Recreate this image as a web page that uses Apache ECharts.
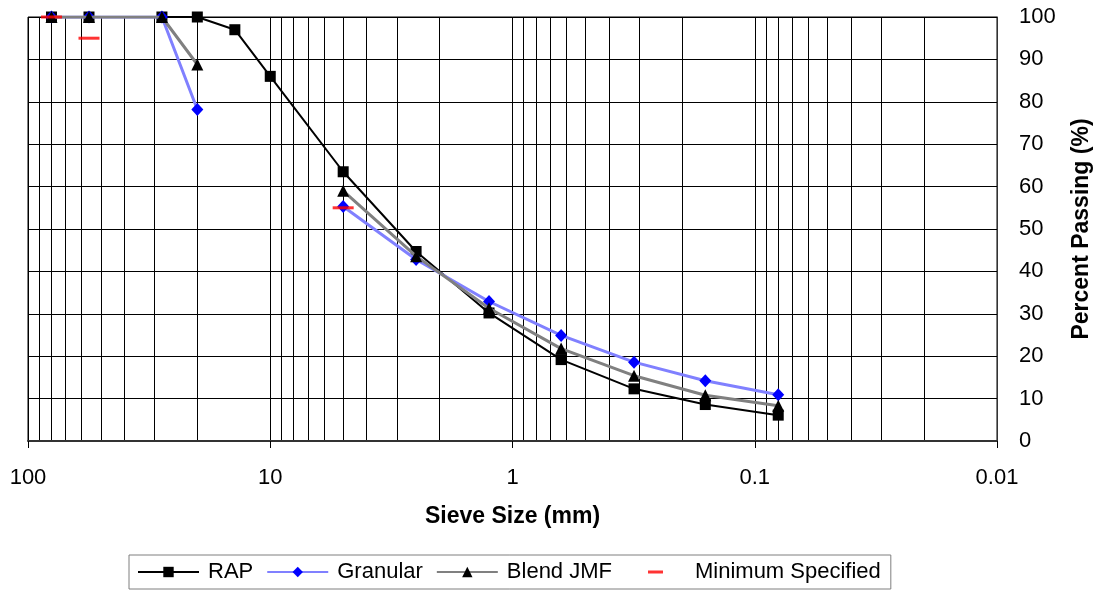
<!DOCTYPE html>
<html><head><meta charset="utf-8">
<script src="https://cdn.jsdelivr.net/npm/echarts@6/dist/echarts.min.js"></script>
<style>html,body{margin:0;padding:0;background:#fff}#c{width:1101px;height:593px}</style>
</head><body><div id="c"></div>
<script>
// Sieve sizes (mm)
const sieveSizes = [80, 56, 28, 20, 14, 10, 5, 2.5, 1.25, 0.63, 0.315, 0.16, 0.08];
// Percent passing
const rapPassing      = [100, 100, 100, 100, 97, 86, 63.5, 44.7, 30.2, 19.2, 12.3, 8.6, 6.1];
const granularPassing = [100, 100, 100, 78.2, null, null, 55.3, 42.8, 32.9, 24.9, 18.6, 14.2, 10.9];
const blendPassing    = [100, 100, 100, 88.8, null, null, 59.0, 43.6, 31.3, 21.8, 15.4, 10.8, 8.3];
const minSpecSizes  = [80, 56, 5];
const minSpecValues = [100, 95, 55];
// Axis ticks
const xDecades = [100, 10, 1, 0.1, 0.01];
const xTickLabels = ['100', '10', '1', '0.1', '0.01'];
const yTickValues = [0, 10, 20, 30, 40, 50, 60, 70, 80, 90, 100];

const FONT = "'Liberation Sans', Arial, sans-serif";

function pairs(xs, ys) {
  return xs.map((x, i) => [x, ys[i] == null ? '-' : ys[i]]);
}
// minor grid lines at 2..9 within each decade
const minorLines = [];
for (let d = 0.01; d < 100; d *= 10) {
  for (let k = 2; k <= 9; k++) minorLines.push({ xAxis: +(k * d).toPrecision(6) });
}

const chart = echarts.init(document.getElementById('c'), null, { renderer: 'canvas' });
chart.setOption({
  animation: false,
  backgroundColor: '#fff',
  textStyle: { fontFamily: FONT },
  grid: { left: 28, right: 102, top: 17, bottom: 152, show: true, borderColor: '#000', borderWidth: 1, containLabel: false },
  xAxis: {
    type: 'log', logBase: 10, min: 0.01, max: 100, inverse: true,
    name: 'Sieve Size (mm)', nameLocation: 'middle', nameGap: 64,
    nameTextStyle: { fontSize: 23, fontWeight: 'bold', color: '#000', fontFamily: FONT },
    axisLine: { show: true, lineStyle: { color: '#333', width: 2 } },
    axisTick: { show: true, length: 7, lineStyle: { color: '#000' } },
    axisLabel: {
      fontSize: 22, color: '#000', margin: 26, fontFamily: FONT,
      formatter: v => { const i = xDecades.findIndex(d => Math.abs(d - v) / d < 1e-6); return i >= 0 ? xTickLabels[i] : ''; }
    },
    splitLine: { show: true, lineStyle: { color: '#000', width: 1 } }
  },
  yAxis: {
    type: 'value', position: 'right', min: 0, max: 100, interval: 10,
    name: 'Percent Passing (%)', nameLocation: 'middle', nameGap: 73, nameRotate: 90,
    nameTextStyle: { fontSize: 23, fontWeight: 'bold', color: '#000', fontFamily: FONT },
    axisLine: { show: true, lineStyle: { color: '#333', width: 1 } },
    axisTick: { show: false },
    axisLabel: { fontSize: 22, color: '#000', margin: 22, fontFamily: FONT,
      formatter: v => yTickValues.includes(v) ? String(v) : '' },
    splitLine: { show: true, lineStyle: { color: '#000', width: 1 } }
  },
  legend: {
    left: 129, top: 555, orient: 'horizontal',
    padding: [6, 10, 6, 8], itemGap: 13, itemWidth: 61, itemHeight: 13,
    borderColor: '#7f7f7f', borderWidth: 1,
    textStyle: { fontSize: 22, color: '#000', fontFamily: FONT, padding: [0, 0, 0, 4] },
    data: [
      { name: 'RAP' }, { name: 'Granular' }, { name: 'Blend JMF' },
      { name: 'Minimum Specified', icon: 'path://M0,0M61,0M61,13M0,13M23,5L38,5L38,8L23,8Z' }
    ]
  },
  series: [
    {
      name: 'minor-grid', type: 'line', data: [], silent: true, z: 0,
      markLine: { silent: true, symbol: 'none', z: 0, animation: false, label: { show: false },
        lineStyle: { color: '#000', width: 1, type: 'solid' }, emphasis: { disabled: true },
        data: minorLines }
    },
    {
      name: 'RAP', type: 'line', data: pairs(sieveSizes, rapPassing), z: 3,
      symbol: 'rect', symbolSize: 11, connectNulls: false,
      lineStyle: { color: '#000', width: 2 }, itemStyle: { color: '#000' }
    },
    {
      name: 'Granular', type: 'line', data: pairs(sieveSizes, granularPassing), z: 4,
      symbol: 'diamond', symbolSize: [12, 13], connectNulls: false,
      lineStyle: { color: '#8080ff', width: 3 }, itemStyle: { color: '#0000ff' }
    },
    {
      name: 'Blend JMF', type: 'line', data: pairs(sieveSizes, blendPassing), z: 5,
      symbol: 'triangle', symbolSize: 12, connectNulls: false,
      lineStyle: { color: '#808080', width: 3 }, itemStyle: { color: '#000' }
    },
    {
      name: 'Minimum Specified', type: 'scatter', data: pairs(minSpecSizes, minSpecValues), z: 6,
      symbol: 'rect', symbolSize: [21, 3], itemStyle: { color: '#ff0000' }
    }
  ]
});
</script></body></html>
